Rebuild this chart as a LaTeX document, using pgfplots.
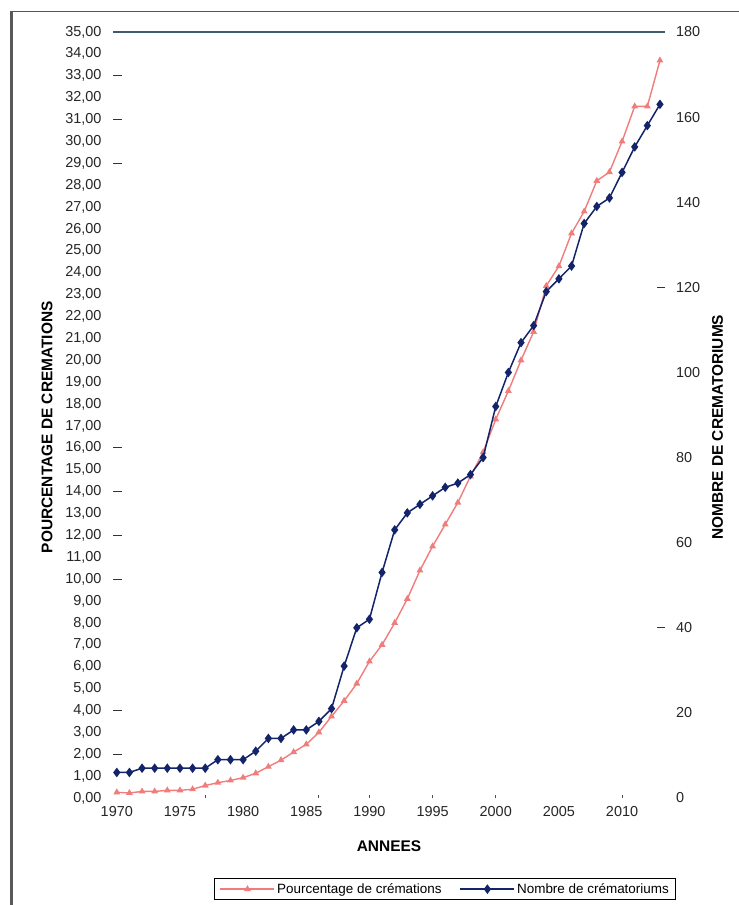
\documentclass[border=0pt]{standalone}
\usepackage{fontspec}
\setmainfont{Liberation Sans}
\usepackage{pgfplots}
\usepackage{pgfplotstable}
\pgfplotsset{compat=1.18}

\definecolor{cremred}{HTML}{F07C7C}
\definecolor{navy}{HTML}{14246A}
\definecolor{frameline}{HTML}{3E5C6E}

% annee, pourcentage de cremations, nombre de crematoriums
\pgfplotstableread{
annee pct crem
1970 0.26 6
1971 0.23 6
1972 0.30 7
1973 0.30 7
1974 0.35 7
1975 0.35 7
1976 0.40 7
1977 0.57 7
1978 0.70 9
1979 0.80 9
1980 0.93 9
1981 1.13 11
1982 1.43 14
1983 1.73 14
1984 2.10 16
1985 2.45 16
1986 3.00 18
1987 3.73 21
1988 4.44 31
1989 5.23 40
1990 6.24 42
1991 7.00 53
1992 8.00 63
1993 9.10 67
1994 10.40 69
1995 11.50 71
1996 12.50 73
1997 13.50 74
1998 14.70 76
1999 15.80 80
2000 17.30 92
2001 18.60 100
2002 20.00 107
2003 21.30 111
2004 23.40 119
2005 24.30 122
2006 25.80 125
2007 26.80 135
2008 28.20 139
2009 28.60 141
2010 30.00 147
2011 31.60 153
2012 31.60 158
2013 33.70 163
}\data

\pgfplotsset{
  common/.style={
    scale only axis, width=552bp, height=766bp,
    xmin=1969.7, xmax=2013.4,
    axis line style={draw=none},
    tick align=inside,
    tick style={draw=none},
    /pgf/number format/assume math mode=true,
    ticklabel style={font=\fontsize{14.5}{15}\selectfont, text=black!85},
    label style={font=\fontsize{15.5}{16}\selectfont\bfseries},
    clip=false,
  },
}

\begin{document}
\begin{tikzpicture}
\path[use as bounding box] (-113bp,-107bp) rectangle (626bp,798bp);
\draw[gray!70!black, line width=2.5bp] (-101.5bp,-130bp) -- (-101.5bp,786bp);
\draw[frameline, line width=1bp] (-102.75bp,786bp) -- (640bp,786bp);

\begin{axis}[common,
  ymin=0, ymax=35,
  xtick={1970,1975,...,2010},
  xtick pos=bottom, ytick pos=left,
  xticklabel style={/pgf/number format/set thousands separator={}, yshift=-5bp},
  ytick={0,1,...,35},
  yticklabel style={/pgf/number format/.cd, fixed, fixed zerofill, precision=2, use comma, /tikz/.cd, xshift=-8bp},
  extra y ticks={2,4,10,12,14,16,29,31,33},
  extra y tick labels={},
  extra y tick style={major tick length=9bp, tick style={draw=black!80, line width=1bp}},
  extra x ticks={1977,1986,1990,1995,2000,2010},
  extra x tick labels={},
  extra x tick style={major tick length=3bp, tick style={draw=black!70, line width=1bp}},
  xlabel={ANNEES},
  xlabel style={yshift=-17bp},
  ylabel={POURCENTAGE DE CREMATIONS},
  ylabel style={at={(ticklabel cs:0.484)}, yshift=6bp},
]
\draw[frameline, line width=1.3bp] (rel axis cs:0,1) -- (rel axis cs:1,1);
\addplot[cremred, line width=1.4bp, mark=triangle*, mark size=2.6bp,
  mark options={fill=cremred, draw=cremred}] table[x=annee, y=pct] {\data};
\end{axis}

\begin{axis}[common,
  ymin=0, ymax=180,
  hide x axis,
  ytick pos=right, yticklabel pos=right,
  ytick={0,20,...,180},
  yticklabel style={xshift=7.5bp},
  extra y ticks={40,120},
  extra y tick labels={},
  extra y tick style={major tick length=8bp, tick style={draw=black!80, line width=1bp}},
  ylabel={NOMBRE DE CREMATORIUMS},
  ylabel style={at={(ticklabel cs:0.484)}, yshift=-5bp},
  legend columns=2,
  legend style={at={(rel axis cs:0.602,-0.1044)}, anchor=north,
    draw=black, line width=1bp, font=\fontsize{13.5}{14}\selectfont,
    inner xsep=5bp, inner ysep=3bp,
    /tikz/every even column/.append style={column sep=16bp}},
  legend image code/.code={
    \draw[mark repeat=2, mark phase=2, #1] plot coordinates {(0bp,0bp) (27bp,0bp) (54bp,0bp)};
  },
]
\addlegendimage{cremred, line width=1.4bp, mark=triangle*, mark size=2.6bp, mark options={fill=cremred, draw=cremred}}
\addlegendentry{Pourcentage de crémations}
\addplot[navy, line width=1.5bp, mark=diamond*, mark size=3.6bp,
  mark options={fill=navy, draw=navy}] table[x=annee, y=crem] {\data};
\addlegendentry{Nombre de crématoriums}
\end{axis}
\end{tikzpicture}
\end{document}
